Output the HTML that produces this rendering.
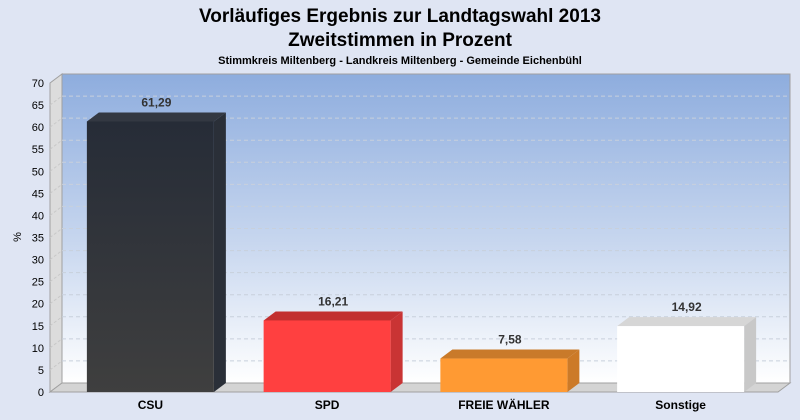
<!DOCTYPE html>
<html><head><meta charset="utf-8"><style>
body{margin:0;background:#dfe5f3;}
svg{display:block;font-family:"Liberation Sans",Arial,sans-serif;}
</style></head><body>
<svg id="c" width="800" height="420" xmlns="http://www.w3.org/2000/svg">
<defs>
<linearGradient id="bg" x1="0" y1="0" x2="0" y2="1"><stop offset="0" stop-color="#8eadde"/><stop offset="0.55" stop-color="#c8d7ef"/><stop offset="1" stop-color="#ffffff"/></linearGradient>
<linearGradient id="csu" x1="0" y1="0" x2="0" y2="1"><stop offset="0" stop-color="#262c37"/><stop offset="1" stop-color="#3f3f3f"/></linearGradient>
</defs>
<rect width="800" height="420" fill="#dfe5f3"/>
<text x="400" y="22" text-anchor="middle" font-size="19" font-weight="bold">Vorläufiges Ergebnis zur Landtagswahl 2013</text>
<text x="400" y="46" text-anchor="middle" font-size="19" font-weight="bold">Zweitstimmen in Prozent</text>
<text x="400" y="64" text-anchor="middle" font-size="11" font-weight="bold">Stimmkreis Miltenberg - Landkreis Miltenberg - Gemeinde Eichenbühl</text>
<g id="plot"></g>
<text x="21" y="237" font-size="11" text-anchor="middle" transform="rotate(-90 21 237)">%</text>
</svg>
<script>
const categories=["CSU","SPD","FREIE WÄHLER","Sonstige"];
const values=[61.29,16.21,7.58,14.92];
const labels=["61,29","16,21","7,58","14,92"];
const colors=["#2c323c","#ff4040","#ff9a33","#ffffff"];
const sideColors=["#2a2f38","#c93434","#cc7a28","#c8c8c8"];
const topColors=["#333842","#c23030","#c97a2a","#d6d6d6"];
const yTicks=[0,5,10,15,20,25,30,35,40,45,50,55,60,65,70];
const NS="http://www.w3.org/2000/svg";
const g=document.getElementById("plot");
const x0=50,x1=778,base=392,dx=12,dy=-9,yMax=70,pxTop=83;
const barStart=62,barEnd=769;
const y=v=>base-(v/yMax)*(base-pxTop);
const band=(barEnd-barStart)/categories.length;
const bw=127;
function el(t,a){const e=document.createElementNS(NS,t);for(const k in a)e.setAttribute(k,a[k]);g.appendChild(e);return e;}
let e;
e=el("rect",{x:x0+dx,y:y(yMax)+dy,width:x1-x0,height:base-y(yMax),fill:"url(#bg)",stroke:"#a0a0a0"});


e=el("polygon",{points:`${x0},${base} ${x0},${y(yMax)} ${x0+dx},${y(yMax)+dy} ${x0+dx},${base+dy}`,fill:"#dcdcdc",stroke:"#a0a0a0"});


e=el("polygon",{points:`${x0},${base} ${x1},${base} ${x1+dx},${base+dy} ${x0+dx},${base+dy}`,fill:"#d4d4d4",stroke:"#a0a0a0"});


yTicks.forEach(t=>{
 if(t>0&&t<yMax){
  e=el("line",{x1:x0+dx,x2:x1+dx,y1:y(t)+dy,y2:y(t)+dy,stroke:"#c8d0dc","stroke-dasharray":"4,3"});
  
  
  e=el("line",{x1:x0,x2:x0+dx,y1:y(t),y2:y(t)+dy,stroke:"#c8c8c8","stroke-dasharray":"3,2"});
  
  
 }
 e=el("text",{x:x0-6,y:y(t)+4,"text-anchor":"end","font-size":"11"});
 e.textContent=t;
 
 
});
categories.forEach((c,i)=>{
 const cx=barStart+band*(i+0.5);const l=cx-bw/2,r=cx+bw/2,t=y(values[i]);
 e=el("polygon",{points:`${l},${t} ${l+dx},${t+dy} ${r+dx},${t+dy} ${r},${t}`,fill:topColors[i]});
 
 
 e=el("polygon",{points:`${r},${t} ${r+dx},${t+dy} ${r+dx},${base+dy} ${r},${base}`,fill:sideColors[i]});
 
 
 e=el("rect",{x:l,y:t,width:bw,height:base-t,fill:i==0?"url(#csu)":colors[i]});
 
 
 e=el("text",{x:cx+dx/2,y:t+dy-6,"text-anchor":"middle","font-size":"12","font-weight":"bold",fill:"#333"});
 e.textContent=labels[i];
 
 
 e=el("text",{x:cx,y:base+17,"text-anchor":"middle","font-size":"12","font-weight":"bold"});
 e.textContent=c;
 
 
});
</script>
</body></html>
